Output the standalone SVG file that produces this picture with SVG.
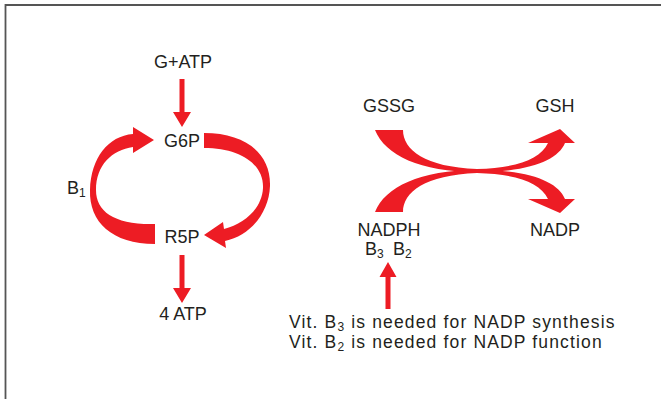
<svg xmlns="http://www.w3.org/2000/svg" width="661" height="399" viewBox="0 0 661 399">
  <style>
    .lbl { font-family: "Liberation Sans", Arial, sans-serif; font-size: 18px; fill: #231f20; }
    .note { font-family: "Liberation Sans", Arial, sans-serif; font-size: 17.5px; letter-spacing: 1.15px; fill: #231f20; }
    .red { fill: #ed1c24; }
    .frame { fill: none; stroke: #555555; stroke-width: 1.8; }
  </style>

  <!-- page frame: top and left rules only -->
  <path class="frame" d="M5.5 399 V5 H661"/>

  <!-- pentose phosphate cycle -->
  <g id="g-atp"><text class="lbl" x="183" y="68" text-anchor="middle">G+ATP</text></g>
  <g id="g6p"><text class="lbl" x="182" y="147" text-anchor="middle">G6P</text></g>
  <g id="r5p"><text class="lbl" x="182" y="243" text-anchor="middle">R5P</text></g>
  <g id="atp4"><text class="lbl" x="183" y="320" text-anchor="middle">4 ATP</text></g>
  <g id="b1"><text class="lbl" x="67" y="194">B<tspan font-size="12" dy="3">1</tspan></text></g>

  <!-- glutathione / NADPH exchange -->
  <g id="gssg"><text class="lbl" x="389" y="112" text-anchor="middle">GSSG</text></g>
  <g id="gsh"><text class="lbl" x="555" y="112" text-anchor="middle">GSH</text></g>
  <g id="nadph">
    <text class="lbl" x="389" y="236" text-anchor="middle">NADPH</text>
    <text class="lbl" x="365" y="255">B<tspan font-size="12" dy="3">3</tspan></text>
    <text class="lbl" x="393" y="255">B<tspan font-size="12" dy="3">2</tspan></text>
  </g>
  <g id="nadp"><text class="lbl" x="555" y="236" text-anchor="middle">NADP</text></g>

  <g id="vitamin-note">
    <text class="note" x="289" y="328">Vit. B<tspan font-size="12" dy="2.5">3</tspan><tspan dy="-2.5"> is needed for NADP synthesis</tspan></text>
    <text class="note" x="289" y="348">Vit. B<tspan font-size="12" dy="2.5">2</tspan><tspan dy="-2.5"> is needed for NADP function</tspan></text>
  </g>

  <g id="connectors" class="red">
    <!-- G+ATP to G6P -->
    <path d="M179.5 79 H184.5 V112 H191 L182 127 L173 112 H179.5 Z"/>
    <!-- R5P to 4 ATP -->
    <path d="M179.5 255 H184.5 V288 H191 L182 303 L173 288 H179.5 Z"/>
    <!-- G6P around the right side to R5P -->
    <path d="M204 133 C245 133 271 153 270 186 C269 213 250 236 225 241 L226 248 L204 235 L223 222 L224 229 C245 224 262 208 263 188 C264 164 240 148 204 148 Z"/>
    <!-- R5P around the left side back to G6P -->
    <path d="M155 244 C112 244 89 222 90 190 C91 158 108 136 133 134 L133 127 L154 140 L133 153 L133 147 C112 150 96 165 96 190 C96 212 115 225 155 224 Z"/>
    <!-- GSSG to GSH -->
    <path id="swoosh" d="M375 130 H403 C403 150 425 167 477 169 C515 168 540 160 548 143 L528 143 L560 129 L575 143 L565 143 C558 160 530 172 477 172 C420 172 385 155 375 130 Z"/>
    <!-- NADPH to NADP (mirror of the upper swoosh) -->
    <use href="#swoosh" transform="matrix(1 0 0 -1 0 342)"/>
    <!-- vitamin supply arrow -->
    <path d="M385.5 309 V277 H379.5 L388 262 L396.5 277 H390.5 V309 Z"/>
  </g>
</svg>
